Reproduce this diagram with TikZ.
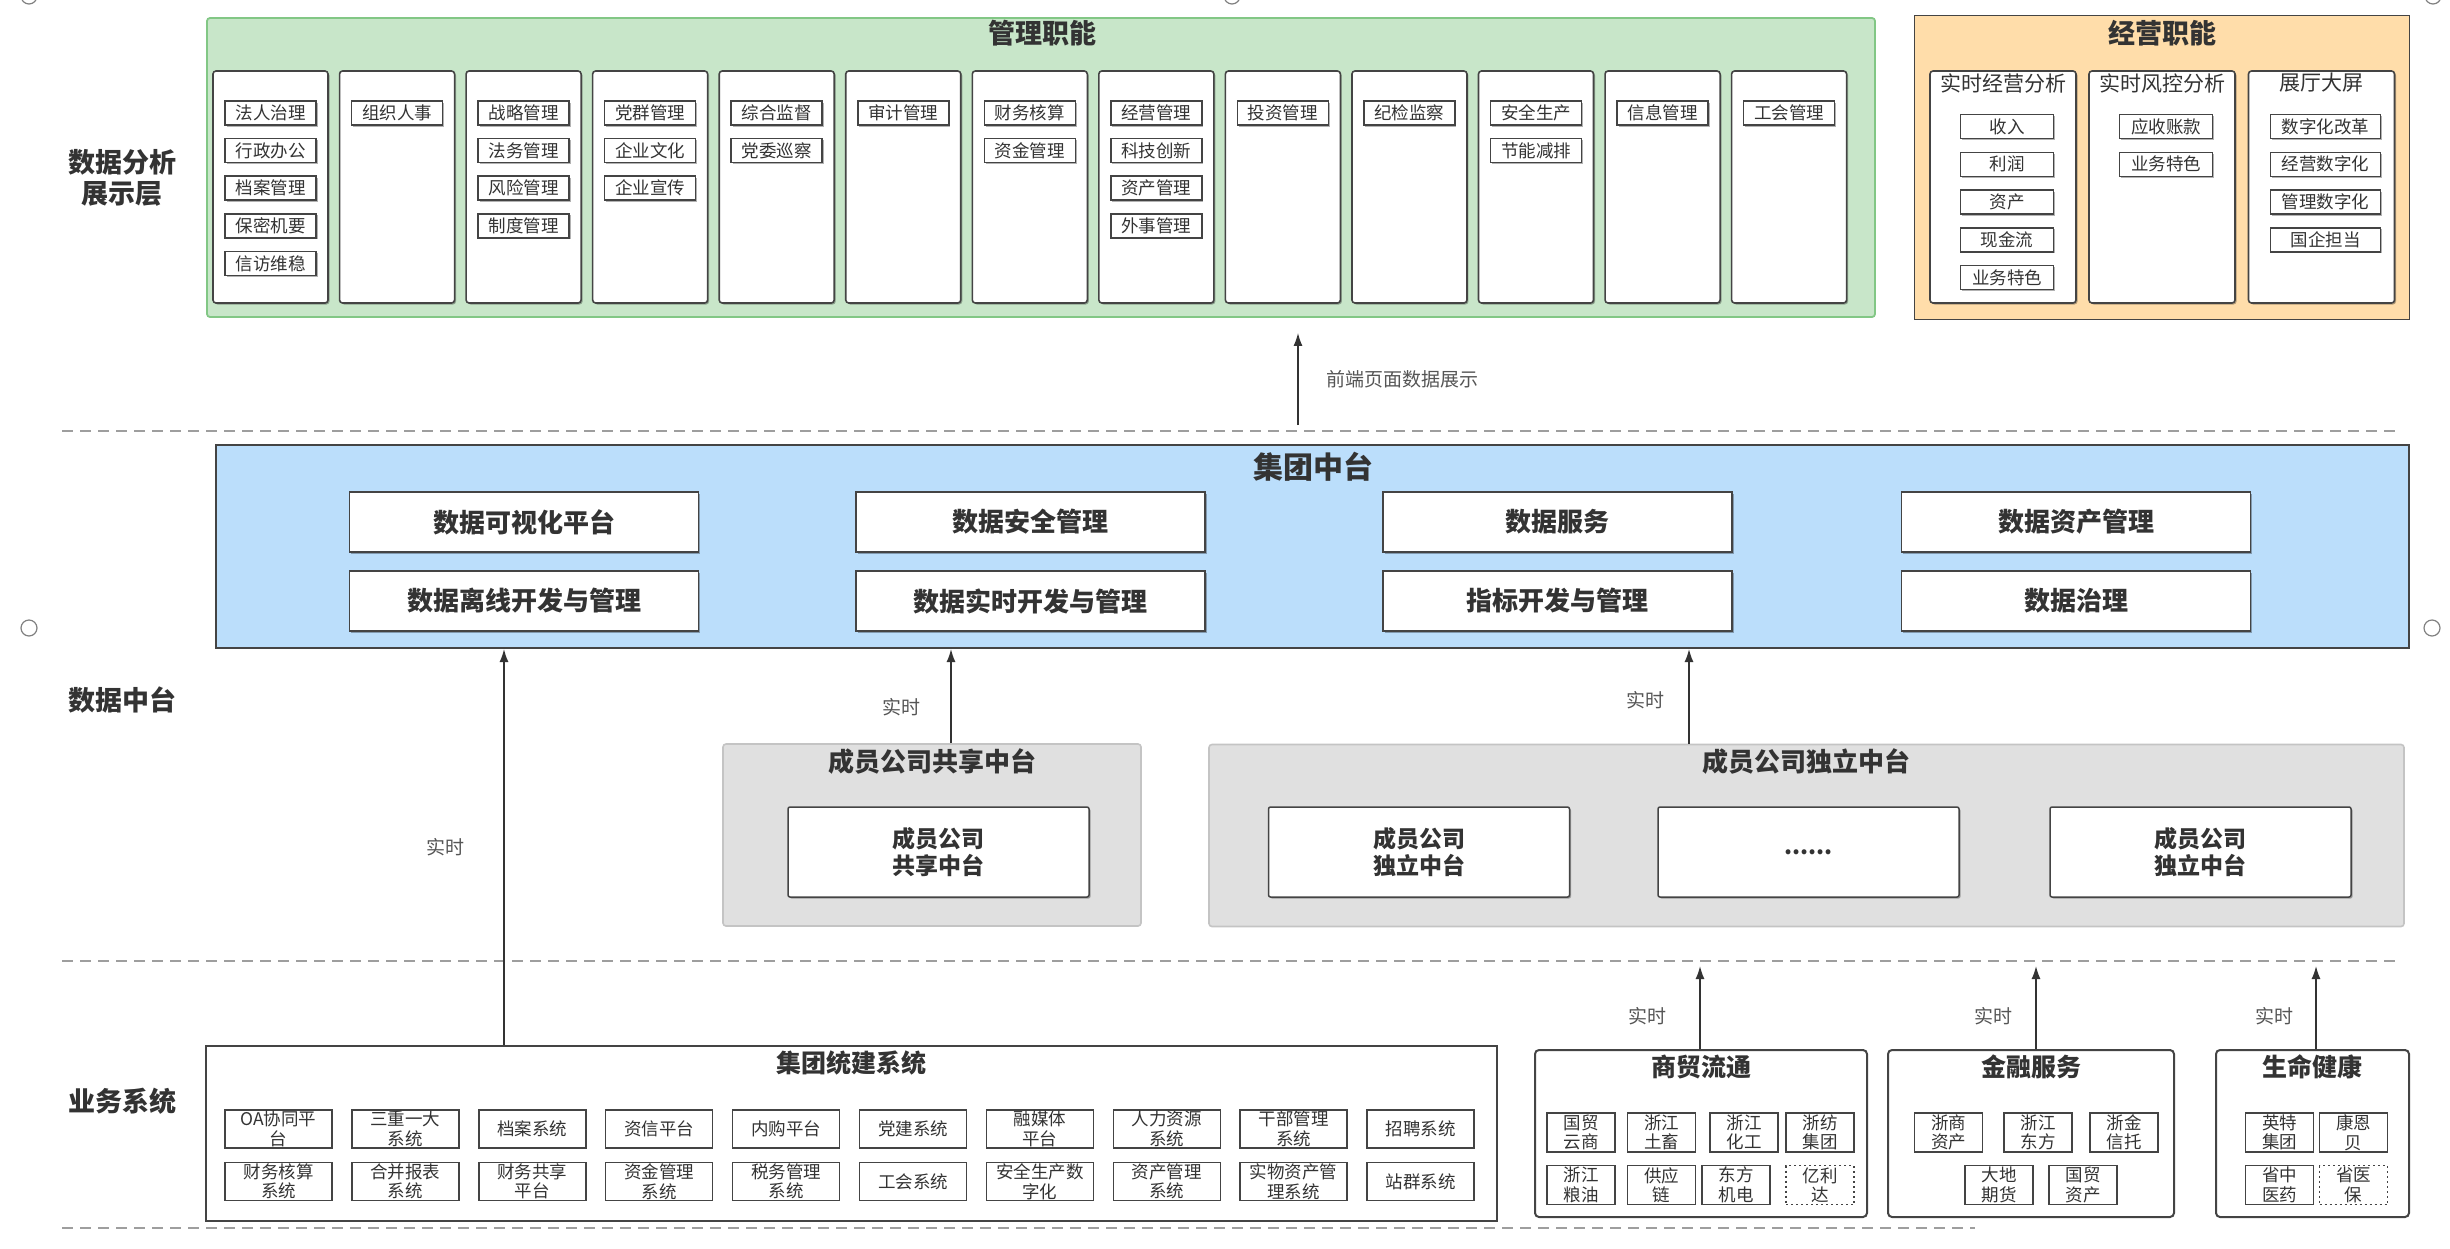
\documentclass[tikz,border=0pt]{standalone}
\usepackage{fontspec}
\setmainfont{Noto Sans CJK SC}
\usepackage{tikz}
\usetikzlibrary{arrows.meta}
\usetikzlibrary{calc}
\usetikzlibrary{shadows}
\usetikzlibrary{positioning}

\definecolor{txt}{HTML}{333333}
\definecolor{lnclr}{HTML}{444444}
\definecolor{grnfill}{HTML}{C8E6C9}
\definecolor{grnline}{HTML}{82C785}
\definecolor{orgfill}{HTML}{FFDDAA}
\definecolor{bluefill}{HTML}{BBDEFB}
\definecolor{grayfill}{HTML}{E0E0E0}
\definecolor{grayline}{HTML}{C4C4C4}
\definecolor{dashln}{HTML}{9E9E9E}
\definecolor{lbltxt}{HTML}{555555}

\begin{document}
\begin{tikzpicture}[x=1pt, y=-1pt,
    every node/.style={text=txt},
    shd/.style={drop shadow={shadow xshift=1.5pt, shadow yshift=-1.5pt, opacity=.3, fill=black}},
    lyr/.style={font=\bfseries\fontsize{27}{31}\selectfont, align=center},
    ttl/.style={font=\bfseries\fontsize{27}{30}\selectfont},
    panel/.style={draw=lnclr, line width=1.6pt, inner sep=0pt},
    col/.style={panel, fill=white, rounded corners=3pt, minimum width=115pt, minimum height=232pt, shd},
    itm/.style={draw=lnclr, line width=1.5pt, fill=white, inner sep=0pt, minimum width=91pt, minimum height=24pt, font=\fontsize{17.5}{19}\selectfont, shd},
    big/.style={draw=lnclr, line width=1.5pt, fill=white, inner sep=0pt, minimum width=349pt, minimum height=60pt, font=\bfseries\fontsize{26}{29}\selectfont, shd},
    grybox/.style={draw=grayline, fill=grayfill, line width=1.6pt, rounded corners=3pt, minimum height=182pt},
    mem/.style={draw=lnclr, line width=1.5pt, fill=white, rounded corners=2pt, minimum width=301pt, minimum height=90pt, align=center, font=\bfseries\fontsize{23}{27}\selectfont, shd},
    grp/.style={panel, line width=2pt, rounded corners=4pt, fill=white, minimum height=167pt},
    gtl/.style={font=\bfseries\fontsize{25}{28}\selectfont},
    sys/.style={draw=lnclr, line width=1.5pt, fill=white, inner sep=0pt, minimum width=107pt, minimum height=38pt, align=center, font=\fontsize{17.5}{19.5}\selectfont},
    sml/.style={sys, minimum width=68pt, minimum height=39pt},
    arr/.style={draw=txt, line width=1.5pt, -{Latex[length=13pt, width=9pt]}},
    lbl/.style={text=lbltxt, font=\fontsize{19}{21}\selectfont},
    dashsep/.style={draw=dashln, line width=1.8pt, dash pattern=on 11pt off 7pt},
    hdl/.style={circle, draw=gray, line width=1.2pt, minimum size=16pt, inner sep=0pt}
  ]
  \useasboundingbox (0,0) rectangle (2450,1248);
  \clip (0,0) rectangle (2450,1248);

  % layer names
  \node[lyr] (l1) at (122,178) {数据分析\\展示层};
  \node[lyr] (l2) at (122,700) {数据中台};
  \node[lyr] (l3) at (122,1101) {业务系统};

  % separators
  \coordinate (s1a) at (62,431);   \coordinate (s1b) at (2400,431);
  \coordinate (s2a) at (62,961);   \coordinate (s2b) at (2400,961);
  \coordinate (s3a) at (62,1228);  \coordinate (s3b) at (1975,1228);
  \draw[dashsep] (s1a) -- (s1b);
  \draw[dashsep] (s2a) -- (s2b);
  \draw[dashsep] (s3a) -- (s3b);

  % selection handles
  \node[hdl] (h1) at (29,-4) {};
  \node[hdl] (h2) at (1232,-4) {};
  \node[hdl] (h3) at (2433,-4) {};
  \node[hdl] (h4) at (29,628) {};
  \node[hdl] (h5) at (2432,628) {};

  % 管理职能
  \node[draw=grnline, fill=grnfill, line width=1.8pt, rounded corners=3pt, minimum width=1668pt, minimum height=299pt] (gl) at (1041,167.5) {};
  \node[ttl] (glt) at (1042,33) {管理职能};
  \foreach \i/\lst in {1/{法人治理,行政办公,档案管理,保密机要,信访维稳}, 2/{组织人事},
      3/{战略管理,法务管理,风险管理,制度管理}, 4/{党群管理,企业文化,企业宣传},
      5/{综合监督,党委巡察}, 6/{审计管理}, 7/{财务核算,资金管理},
      8/{经营管理,科技创新,资产管理,外事管理}, 9/{投资管理}, 10/{纪检监察},
      11/{安全生产,节能减排}, 12/{信息管理}, 13/{工会管理}}{
    \node[col] (m\i) at ({270.5+(\i-1)*126.55},187) {};
    \foreach \nm [count=\k] in \lst
      \node[itm] (m\i-\k) at ({270.5+(\i-1)*126.55},{113+(\k-1)*37.6}) {\nm};
  }

  % 经营职能
  \node[panel, fill=orgfill, minimum width=495pt, minimum height=304pt] (jy) at (2162,167.5) {};
  \node[ttl] (jyt) at (2162,33) {经营职能};
  \foreach \i/\x/\w/\hd/\lst in {1/2003/93/实时经营分析/{收入,利润,资产,现金流,业务特色},
      2/2162/93/实时风控分析/{应收账款,业务特色},
      3/2321.5/110/展厅大屏/{数字化改革,经营数字化,管理数字化,国企担当}}{
    \node[col, minimum width=146pt] (j\i) at (\x,187) {};
    \node[font=\fontsize{21}{24}\selectfont] (j\i-h) at (\x,83) {\hd};
    \foreach \nm [count=\k] in \lst
      \node[itm, minimum width=\w pt] (j\i-\k) at ({\x+4},{126.5+(\k-1)*37.8}) {\nm};
  }

  % 集团中台
  \node[panel, fill=bluefill, line width=2pt, minimum width=2193pt, minimum height=203pt] (zt) at (1312.5,546.5) {};
  \node[font=\bfseries\fontsize{30}{33}\selectfont] (ztt) at (1313,467) {集团中台};
  \foreach \x/\ra/\rb [count=\i] in {524/数据可视化平台/数据离线开发与管理,
      1030.5/数据安全管理/数据实时开发与管理, 1557.5/数据服务/指标开发与管理,
      2076/数据资产管理/数据治理}{
    \node[big] (z\i-1) at (\x,522) {\ra};
    \node[big] (z\i-2) at (\x,601) {\rb};
  }

  % member company platforms
  \node[grybox, minimum width=418pt] (gx) at (932,835) {};
  \node[gtl, font=\bfseries\fontsize{26}{29}\selectfont] (gxt) at (932,761) {成员公司共享中台};
  \node[mem] (gx1) at (938.5,852) {成员公司\\共享中台};

  \node[grybox, minimum width=1195pt] (dl) at (1806.5,835.5) {};
  \node[gtl, font=\bfseries\fontsize{26}{29}\selectfont] (dlt) at (1806,761) {成员公司独立中台};
  \node[mem] (dl1) at (1419,852) {成员公司\\独立中台};
  \node[mem] (dl2) at (1808.5,852) {......};
  \node[mem] (dl3) at (2200.5,852) {成员公司\\独立中台};

  % 集团统建系统
  \node[panel, line width=1.8pt, fill=white, minimum width=1291pt, minimum height=175pt] (tj) at (851.5,1133.5) {};
  \node[gtl] (tjt) at (851,1063) {集团统建系统};
  \foreach \ra/\rb [count=\i] in {{OA协同平\\台}/{财务核算\\系统}, {三重一大\\系统}/{合并报表\\系统},
      档案系统/{财务共享\\平台}, 资信平台/{资金管理\\系统}, 内购平台/{税务管理\\系统},
      党建系统/工会系统, {融媒体\\平台}/{安全生产数\\字化}, {人力资源\\系统}/{资产管理\\系统},
      {干部管理\\系统}/{实物资产管\\理系统}, 招聘系统/站群系统}{
    \node[sys] (t\i-1) at ({278.5+(\i-1)*126.9},1129) {\ra};
    \node[sys] (t\i-2) at ({278.5+(\i-1)*126.9},1181.5) {\rb};
  }

  % 商贸流通
  \node[grp, minimum width=332pt] (sm) at (1701,1133.5) {};
  \node[gtl] (smt) at (1701,1067) {商贸流通};
  \node[sml] (sm1) at (1581,1132.5) {国贸\\云商};
  \node[sml] (sm2) at (1661.5,1132.5) {浙江\\土畜};
  \node[sml] (sm3) at (1744,1132.5) {浙江\\化工};
  \node[sml] (sm4) at (1820,1132.5) {浙纺\\集团};
  \node[sml] (sm5) at (1581,1185) {浙江\\粮油};
  \node[sml] (sm6) at (1661.5,1185) {供应\\链};
  \node[sml] (sm7) at (1736,1185) {东方\\机电};
  \node[sml, dash pattern=on 2pt off 3pt] (sm8) at (1820,1185) {亿利\\达};

  % 金融服务
  \node[grp, minimum width=286pt] (jr) at (2031,1133.5) {};
  \node[gtl] (jrt) at (2031,1067) {金融服务};
  \node[sml] (jr1) at (1948.5,1132.5) {浙商\\资产};
  \node[sml] (jr2) at (2038,1132.5) {浙江\\东方};
  \node[sml] (jr3) at (2124,1132.5) {浙金\\信托};
  \node[sml] (jr4) at (1999,1185) {大地\\期货};
  \node[sml] (jr5) at (2083,1185) {国贸\\资产};

  % 生命健康
  \node[grp, minimum width=193pt] (sh) at (2312.5,1133.5) {};
  \node[gtl] (sht) at (2312,1067) {生命健康};
  \node[sml] (sh1) at (2279.5,1132.5) {英特\\集团};
  \node[sml] (sh2) at (2353.5,1132.5) {康恩\\贝};
  \node[sml] (sh3) at (2279.5,1185) {省中\\医药};
  \node[sml, dash pattern=on 2pt off 3pt] (sh4) at (2353.5,1185) {省医\\保};

  % arrows
  \coordinate (tp) at (1298,425);
  \draw[arr] (tp) -- ([yshift=-15pt]gl.south -| tp) node[lbl, midway, right=24pt] {前端页面数据展示};

  \coordinate (x1) at (504,0);
  \coordinate (x2) at (951,0);
  \coordinate (x3) at (1689,0);
  \draw[arr] (tj.north -| x1) -- (zt.south -| x1) node[lbl, pos=.5, left=35pt] {实时};
  \draw[arr] (gx.north -| x2) -- (zt.south -| x2) node[lbl, pos=.385, left=26pt] {实时};
  \draw[arr] (dl.north -| x3) -- (zt.south -| x3) node[lbl, pos=.46, left=20pt] {实时};

  \coordinate (y1) at (1700,966);
  \coordinate (y2) at (2036,966);
  \coordinate (y3) at (2316,966);
  \draw[arr] (sm.north -| y1) -- (y1) node[lbl, pos=.39, left=29pt] {实时};
  \draw[arr] (jr.north -| y2) -- (y2) node[lbl, pos=.39, left=19pt] {实时};
  \draw[arr] (sh.north -| y3) -- (y3) node[lbl, pos=.39, left=18pt] {实时};
\end{tikzpicture}
\end{document}
